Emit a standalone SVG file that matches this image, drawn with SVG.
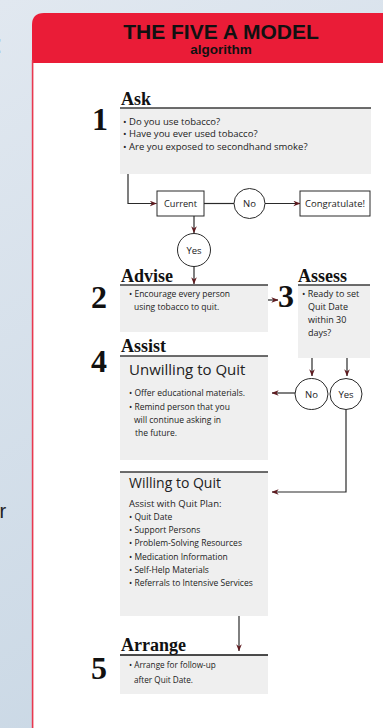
<svg xmlns="http://www.w3.org/2000/svg" width="383" height="728" viewBox="0 0 383 728">
<defs>
<linearGradient id="bg" x1="0" y1="0" x2="0.3" y2="1">
<stop offset="0" stop-color="#e1e8f0"/>
<stop offset="1" stop-color="#cad8e5"/>
</linearGradient>
<marker id="ah" viewBox="0 0 10 8" refX="9.5" refY="4" markerWidth="7" markerHeight="6" orient="auto" markerUnits="userSpaceOnUse">
<path d="M0,0 L10,4 L0,8 L3,4 Z" fill="#5e1a1f"/>
</marker>
<style>
.hd{font-family:"Liberation Serif",serif;font-weight:bold;font-size:18px;fill:#111}
.num{font-family:"Liberation Serif",serif;font-weight:bold;font-size:32px;fill:#111}
.tx{font-family:"Open Sans","Liberation Sans",sans-serif;fill:#222}
.box{fill:#efefef}
.top{stroke:#3c3c3c;stroke-width:1.5}
.fl{fill:#fff;stroke:#2a2a2a;stroke-width:1}
.con{fill:none;stroke:#2a2a2a;stroke-width:1.2}
</style>
</defs>
<rect width="383" height="728" fill="url(#bg)"/>
<g id="background-fragments" font-family="Liberation Sans, sans-serif" fill="#222">
<text x="-5" y="53" font-size="26">:</text>
<text x="-0.5" y="518" font-size="20">r</text>
</g>
<g id="card">
<rect x="33" y="60" width="360" height="680" fill="#ffffff"/>
<path d="M32,63 V25 Q32,13 44,13 H383 V63 Z" fill="#ea1c37"/>
<line x1="32.6" y1="60" x2="32.6" y2="728" stroke="#e8384f" stroke-width="1.6"/>
<text x="221" y="39" text-anchor="middle" font-family="Liberation Sans, Arial, sans-serif" font-weight="bold" font-size="21" fill="#111">THE FIVE A MODEL</text>
<text x="221" y="54" text-anchor="middle" font-family="Liberation Sans, Arial, sans-serif" font-weight="bold" font-size="13.5" fill="#111">algorithm</text>
</g>
<g id="ask">
<text class="num" x="92" y="130" font-size="29">1</text>
<text class="hd" x="121" y="105">Ask</text>
<rect class="box" x="120" y="108" width="251" height="66"/>
<line class="top" x1="120" y1="108" x2="371" y2="108" stroke="#6a6a6a"/>
<g class="tx" font-size="9.5">
<text x="123" y="124.5">• Do you use tobacco?</text>
<text x="123" y="137">• Have you ever used tobacco?</text>
<text x="123" y="149.5">• Are you exposed to secondhand smoke?</text>
</g>
</g>
<g id="current">
<rect class="fl" x="157" y="191" width="47" height="25"/>
<text class="tx" x="180.5" y="207" font-size="9.2" text-anchor="middle">Current</text>
</g>
<g id="no1">
<ellipse class="fl" cx="249.5" cy="203.5" rx="15.5" ry="15"/>
<text class="tx" x="249.5" y="207" font-size="9.5" text-anchor="middle">No</text>
</g>
<g id="congratulate">
<rect class="fl" x="300" y="191" width="70" height="25"/>
<text class="tx" x="335" y="207" font-size="9.5" text-anchor="middle">Congratulate!</text>
</g>
<g id="yes1">
<circle class="fl" cx="194" cy="250" r="16.5"/>
<text class="tx" x="194" y="253.5" font-size="9.5" text-anchor="middle">Yes</text>
</g>
<g id="advise">
<text class="num" x="91" y="308">2</text>
<text class="hd" x="121" y="282">Advise</text>
<rect class="box" x="120" y="285" width="148" height="47"/>
<line class="top" x1="120" y1="285" x2="268" y2="285"/>
<g class="tx" font-size="8.5">
<text x="129" y="297">• Encourage every person</text>
<text x="134" y="309.5">using tobacco to quit.</text>
</g>
</g>
<g id="assess">
<text class="num" x="278" y="307">3</text>
<text class="hd" x="298" y="282" font-size="17">Assess</text>
<rect class="box" x="298" y="285" width="72" height="73"/>
<line class="top" x1="298" y1="285" x2="370" y2="285"/>
<g class="tx" font-size="9">
<text x="302" y="297">• Ready to set</text>
<text x="308" y="310">Quit Date</text>
<text x="308" y="323">within 30</text>
<text x="308" y="336">days?</text>
</g>
</g>
<g id="no2">
<ellipse class="fl" cx="311.5" cy="394" rx="16.5" ry="15.5"/>
<text class="tx" x="311.5" y="397.5" font-size="9.5" text-anchor="middle">No</text>
</g>
<g id="yes2">
<ellipse class="fl" cx="346" cy="394" rx="16" ry="15.5"/>
<text class="tx" x="346" y="397.5" font-size="9.5" text-anchor="middle">Yes</text>
</g>
<g id="assist-unwilling">
<text class="num" x="91" y="372">4</text>
<text class="hd" x="121" y="352">Assist</text>
<rect class="box" x="120" y="356" width="148" height="104"/>
<line class="top" x1="120" y1="356" x2="268" y2="356"/>
<text class="tx" x="129" y="375" font-size="15">Unwilling to Quit</text>
<g class="tx" font-size="8.5">
<text x="129" y="396">• Offer educational materials.</text>
<text x="129" y="409.5">• Remind person that you</text>
<text x="134" y="423">will continue asking in</text>
<text x="135" y="436">the future.</text>
</g>
</g>
<g id="assist-willing">
<rect class="box" x="120" y="472" width="148" height="144"/>
<line class="top" x1="120" y1="472" x2="268" y2="472"/>
<text class="tx" x="129" y="488" font-size="14">Willing to Quit</text>
<text class="tx" x="129" y="507" font-size="9.5">Assist with Quit Plan:</text>
<g class="tx" font-size="8.5">
<text x="129" y="520">• Quit Date</text>
<text x="129" y="533">• Support Persons</text>
<text x="129" y="546">• Problem-Solving Resources</text>
<text x="129" y="559.5">• Medication Information</text>
<text x="129" y="573">• Self-Help Materials</text>
<text x="129" y="586">• Referrals to Intensive Services</text>
</g>
</g>
<g id="arrange">
<text class="num" x="91" y="679">5</text>
<text class="hd" x="121" y="651">Arrange</text>
<rect class="box" x="120" y="655" width="148" height="39"/>
<line x1="120" y1="655" x2="268" y2="655" stroke="#111" stroke-width="1.5"/>
<g class="tx" font-size="8.2">
<text x="129" y="668">• Arrange for follow-up</text>
<text x="134" y="683">after Quit Date.</text>
</g>
</g>
<g id="connectors">
<path class="con" d="M128,174 V203.5 H156.5" marker-end="url(#ah)"/>
<line class="con" x1="204" y1="203.5" x2="234" y2="203.5"/>
<line class="con" x1="265" y1="203.5" x2="300" y2="203.5" marker-end="url(#ah)"/>
<line class="con" x1="194" y1="216" x2="194" y2="233" marker-end="url(#ah)"/>
<line class="con" x1="194" y1="266.5" x2="194" y2="284" marker-end="url(#ah)"/>
<line class="con" x1="268" y1="300" x2="278" y2="300" marker-end="url(#ah)"/>
<line class="con" x1="312" y1="358" x2="312" y2="376" marker-end="url(#ah)"/>
<line class="con" x1="347" y1="358" x2="347" y2="376" marker-end="url(#ah)"/>
<line class="con" x1="295" y1="393" x2="272" y2="393" marker-end="url(#ah)"/>
<path class="con" d="M346,409.5 V492 H272" marker-end="url(#ah)"/>
<line class="con" x1="239" y1="616" x2="239" y2="651" stroke="#707070" marker-end="url(#ah)"/>
</g>
</svg>
